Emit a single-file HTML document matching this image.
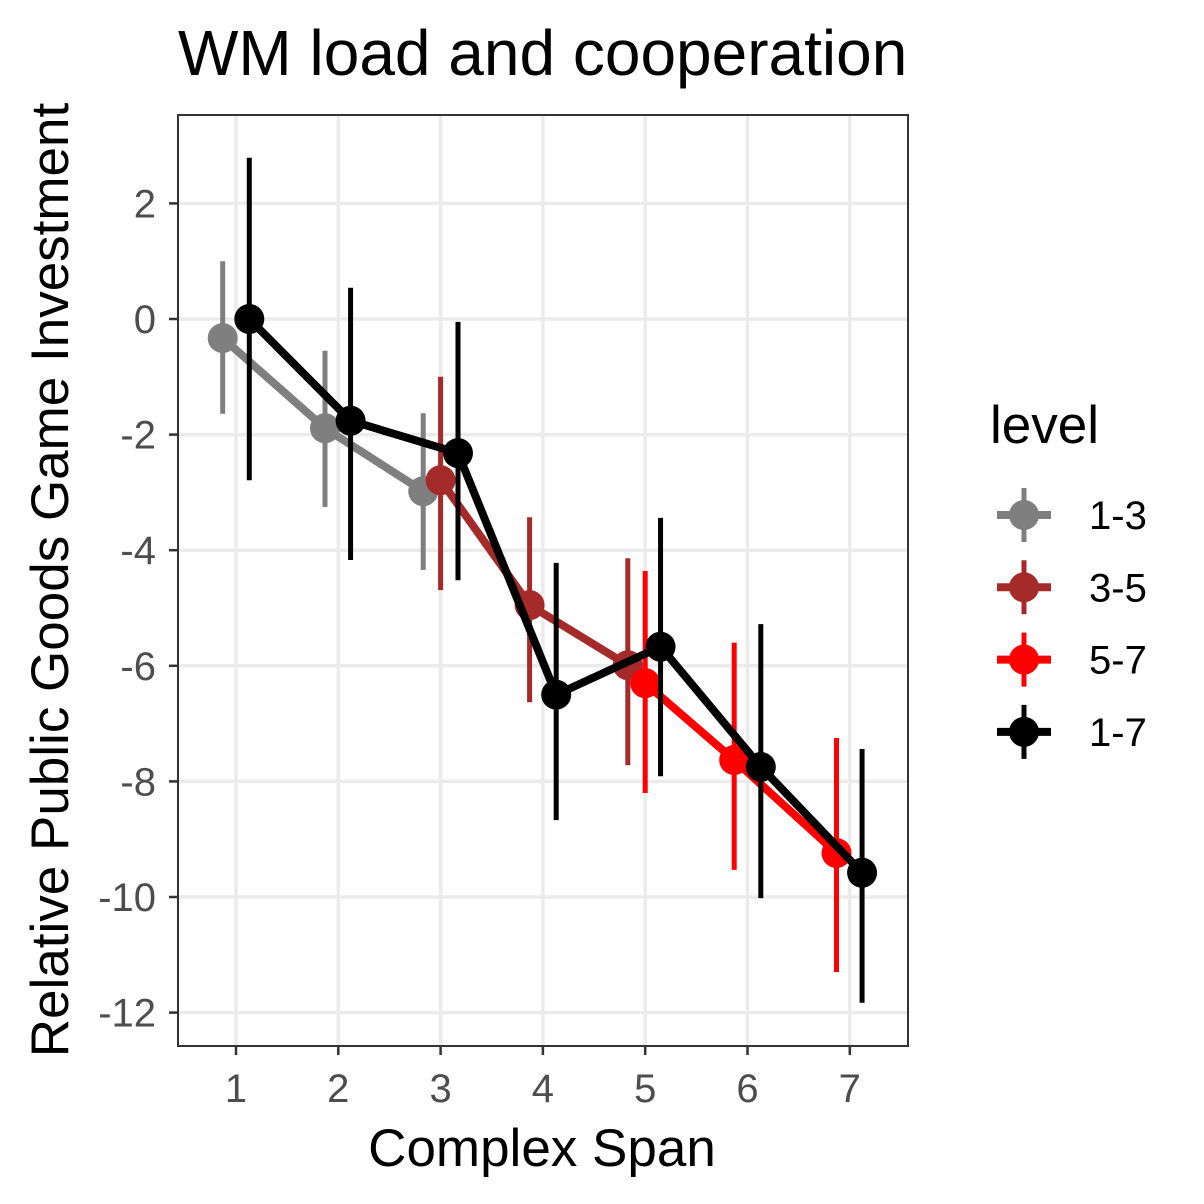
<!DOCTYPE html>
<html><head><meta charset="utf-8"><style>
html,body{margin:0;padding:0;background:#fff}
svg{display:block;font-family:"Liberation Sans",Arial,sans-serif}
</style></head><body>
<svg id="chart" width="1204" height="1204" viewBox="0 0 1204 1204">
<rect width="1204" height="1204" fill="#fff"/>
<text x="178" y="75" font-size="64" fill="#000">WM load and cooperation</text>
<g id="grid"></g>
<g id="marks"></g>
<rect x="178" y="115" width="730" height="931" fill="none" stroke="#333" stroke-width="2"/>
<g id="axes"></g>
<text x="542" y="1166" font-size="53" text-anchor="middle" fill="#000">Complex Span</text>
<text transform="translate(68,580) rotate(-90)" font-size="53" text-anchor="middle" fill="#000">Relative Public Goods Game Investment</text>
<g id="legend"></g>
</svg>
<script>
const xTicks=[1,2,3,4,5,6,7];
const yTicks=[2,0,-2,-4,-6,-8,-10,-12];
const levels=["1-3","3-5","5-7","1-7"];
const colors=["#7f7f7f","#a52a2a","#ff0000","#000000"];
const x13=[1,2,3], d13=[-0.13,-0.13,-0.17], y13=[-0.33,-1.89,-2.98], lo13=[-1.64,-3.25,-4.34], hi13=[1.0,-0.55,-1.63];
const x35=[3,4,5], d35=[0,-0.13,-0.17], y35=[-2.79,-4.95,-5.99], lo35=[-4.69,-6.63,-7.72], hi35=[-1.0,-3.43,-4.14];
const x57=[5,6,7], d57=[0,-0.13,-0.13], y57=[-6.30,-7.63,-9.24], lo57=[-8.2,-9.53,-11.3], hi57=[-4.36,-5.6,-7.25];
const x17=[1,2,3,4,5,6,7], d17=[0.13,0.12,0.17,0.13,0.15,0.13,0.12], y17=[0,-1.76,-2.32,-6.5,-5.67,-7.75,-9.58], lo17=[-2.79,-4.17,-4.52,-8.67,-7.91,-10.02,-11.83], hi17=[2.79,0.54,-0.05,-4.22,-3.44,-5.28,-7.44];
const series=[[x13,d13,y13,lo13,hi13],[x35,d35,y35,lo35,hi35],[x57,d57,y57,lo57,hi57],[x17,d17,y17,lo17,hi17]];
const X=v=>236+(v-1)*102.3;
const Y=v=>319-v*57.8;
const NS="http://www.w3.org/2000/svg";
function mk(tag,attrs,parent){const e=document.createElementNS(NS,tag);for(const k in attrs)e.setAttribute(k,attrs[k]);parent.appendChild(e);return e;}
const grid=document.getElementById('grid'),axes=document.getElementById('axes'),marks=document.getElementById('marks'),legend=document.getElementById('legend');
yTicks.forEach(v=>{const y=Y(v);
 const l=mk('line',{x1:178,x2:908,y1:y,y2:y,stroke:'#ebebeb','stroke-width':3.5},grid);
 
 });
xTicks.forEach(v=>{const x=X(v);
 const l=mk('line',{x1:x,x2:x,y1:115,y2:1046,stroke:'#ebebeb','stroke-width':3.5},grid);
 
 });
yTicks.forEach(v=>{const y=Y(v);
 const t=mk('line',{x1:169,x2:178,y1:y,y2:y,stroke:'#333','stroke-width':2.5},axes);
 
 
 const tx=mk('text',{x:156,y:y+14,'font-size':40,'text-anchor':'end',fill:'#4d4d4d'},axes);tx.textContent=v;
 
 });
xTicks.forEach(v=>{const x=X(v);
 const t=mk('line',{x1:x,x2:x,y1:1046,y2:1055,stroke:'#333','stroke-width':2.5},axes);
 
 
 const tx=mk('text',{x:x,y:1102,'font-size':40,'text-anchor':'middle',fill:'#4d4d4d'},axes);tx.textContent=v;
 
 });
series.forEach((s,i)=>{const [xs,ds,ys,lo,hi]=s;const g=mk('g',{},marks);
 
 
 xs.forEach((xv,j)=>{const x=X(xv+ds[j]);
  const e=mk('line',{x1:x,x2:x,y1:Y(lo[j]),y2:Y(hi[j]),stroke:colors[i],'stroke-width':5},g);
  
  });
 const pts=xs.map((xv,j)=>X(xv+ds[j])+','+Y(ys[j])).join(' ');
 const pl=mk('polyline',{points:pts,fill:'none',stroke:colors[i],'stroke-width':8,'stroke-linejoin':'round'},g);
 
 
 xs.forEach((xv,j)=>{const c=mk('circle',{cx:X(xv+ds[j]),cy:Y(ys[j]),r:15,fill:colors[i]},g);
  
  });});
const lt=mk('text',{x:990,y:443,'font-size':53,fill:'#000'},legend);lt.textContent='level';


levels.forEach((lv,i)=>{const y=515+i*72.3;const g=mk('g',{},legend);
 
 
 mk('line',{x1:1024,x2:1024,y1:y-27,y2:y+27,stroke:colors[i],'stroke-width':5},g);
 mk('line',{x1:997,x2:1051,y1:y,y2:y,stroke:colors[i],'stroke-width':8},g);
 mk('circle',{cx:1024,cy:y,r:15,fill:colors[i]},g);
 const t=mk('text',{x:1089,y:y+14,'font-size':40,fill:'#000'},g);t.textContent=lv;});
</script>
</body></html>
